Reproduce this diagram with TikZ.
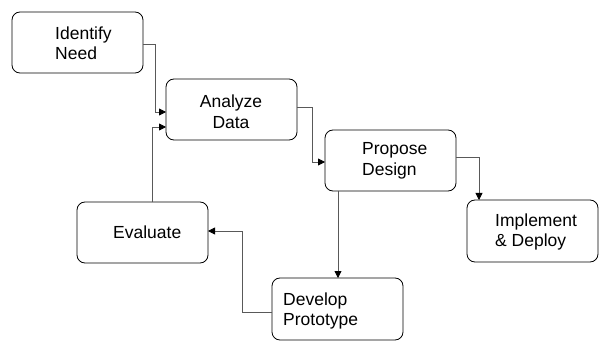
\documentclass[tikz,border=0pt]{standalone}
\usepackage{fontspec}
\setmainfont{Liberation Sans}
\usetikzlibrary{arrows.meta}
\tikzset{
  box/.style={draw=black, line width=0.8pt, rounded corners=8pt, minimum width=131pt, minimum height=61pt, inner sep=0pt, outer sep=0pt},
  lbl/.style={align=left, inner sep=0pt, font=\fontsize{17.5}{20.5}\selectfont},
  conn/.style={draw=black!65, line width=0.8pt, -{Triangle[length=7pt,width=7pt,fill=black,color=black]}}
}
\begin{document}
\begin{tikzpicture}[x=1pt,y=-1pt]
\useasboundingbox[fill=white] (0,0) rectangle (600,342);
% boxes
\node[box] (id) at (77.5,42.5) {};
\node[box] (ad) at (231.5,109.5) {};
\node[box] (pd) at (390.5,160.5) {};
\node[box, minimum height=62pt] (im) at (532.5,231) {};
\node[box] (ev) at (142.5,232.5) {};
\node[box, minimum height=62pt] (dp) at (337.5,309) {};
% labels
\node[lbl, anchor=west] (tid) at (55,43) {Identify\\Need};
\node[lbl, align=center] (tad) at (231,111.5) {Analyze\\Data};
\node[lbl, anchor=west] (tpd) at (362,161) {Propose\\Design};
\node[lbl, anchor=west] (tim) at (495,232) {Implement\\\& Deploy};
\node[lbl, anchor=west] (tev) at (113,232) {Evaluate};
\node[lbl, anchor=west] (tdp) at (283,311) {Develop\\Prototype};
% bend points
\coordinate (a1) at (155,44);
\coordinate (a2) at (155,112);
\coordinate (b1) at (152,127);
\coordinate (c1) at (312,107);
\coordinate (c2) at (312,162);
\coordinate (d1) at (479,157);
\coordinate (e1) at (338,0);
\coordinate (f1) at (242,312);
\coordinate (f2) at (242,231);
% connectors
\draw[conn] (id.east |- a1) -- (a1) -- (a2) -- (ad.west |- a2);
\draw[conn] (ev.north -| b1) -- (b1) -- (ad.west |- b1);
\draw[conn] (ad.east |- c1) -- (c1) -- (c2) -- (pd.west |- c2);
\draw[conn] (pd.east |- d1) -- (d1) -- (im.north -| d1);
\draw[conn] (pd.south -| e1) -- (dp.north -| e1);
\draw[conn] (dp.west |- f1) -- (f1) -- (f2) -- (ev.east |- f2);
\end{tikzpicture}
\end{document}
